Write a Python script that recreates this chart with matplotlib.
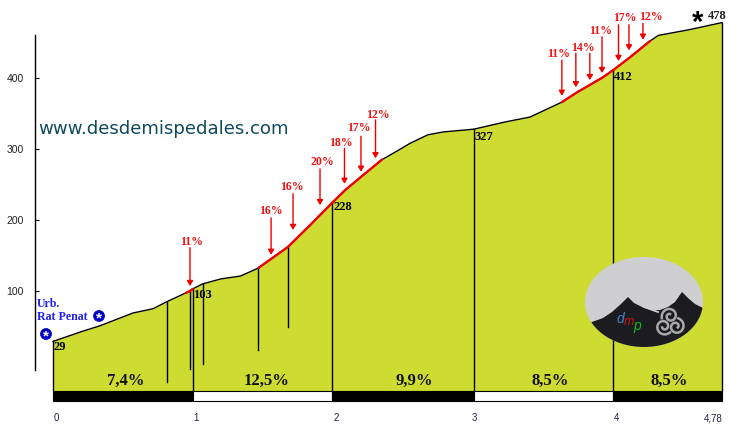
import numpy as np
import matplotlib
matplotlib.use("Agg")
import matplotlib.pyplot as plt
from matplotlib.patches import Ellipse, Polygon
from matplotlib.transforms import ScaledTranslation

# profile
km = [0, 0.207, 0.336, 0.572, 0.715, 0.815, 0.98, 1.0, 1.07, 1.20, 1.34, 1.466, 1.68, 1.84, 1.996, 2.089, 2.217, 2.353,
      2.46, 2.554, 2.682, 2.79, 2.961, 3.012, 3.233, 3.412, 3.64, 3.75, 3.934, 4.006, 4.12, 4.27, 4.33, 4.55, 4.785]
elev = [29, 43, 51, 69, 75, 85, 100, 103, 110, 117, 121, 132, 162, 193, 224, 242, 263, 285,
        297, 308, 320, 324, 327, 328, 338, 345, 366, 380, 401, 411, 428, 452, 460, 468, 478]
red_ranges = [(0.95, 1.0), (1.47, 2.353), (3.64, 4.27)]

# spot heights (marks dropped from the profile)
drop_km = [0.815, 0.98, 1.0, 1.07, 1.466, 1.68, 1.996, 3.012, 4.006, 4.785]
drop_to = [-28, -10, -41, -3, 17, 50, -41, -41, -41, -41]

height_km = [0.0, 1.07, 2.07, 3.08, 4.08]
height_el = [21, 94, 218, 317, 402]
height_txt = ["29", "103", "228", "327", "412"]

# gradient arrows
arrow_km = [0.98, 1.56, 1.717, 1.91, 2.085, 2.203, 2.307, 3.64, 3.74, 3.84, 3.927, 4.045, 4.12, 4.22]
arrow_tip = [107, 151, 186, 221, 251, 268, 287, 375, 387, 397, 407, 424, 439, 454]
arrow_tail = [161, 203, 237, 272, 301, 318, 341, 425, 435, 435, 458, 475, 475, 477]
grad_txt = ["11%", "16%", "16%", "20%", "18%", "17%", "12%", "11%", "14%", "11%", "17%", "12%"]
grad_km = [0.994, 1.56, 1.71, 1.924, 2.06, 2.189, 2.325, 3.62, 3.79, 3.92, 4.09, 4.28]
grad_el = [169, 213, 246, 282, 308, 330, 348, 434, 442, 466, 485, 486]

# strip of mean gradients
seg_edges = [0, 1, 1.996, 3.012, 4.006, 4.785]
seg_txt = ["7,4%", "12,5%", "9,9%", "8,5%", "8,5%"]
seg_colors = ["black", "white", "black", "white", "black"]
seg_txt_km = [0.52, 1.525, 2.585, 3.555, 4.41]

x_ticks = [0, 1, 2, 3, 4, 4.78]
x_labels = ["0", "1", "2", "3", "4", "4,78"]
y_ticks = [100, 200, 300, 400]

FILL = "#CEDC32"
SERIF = "Liberation Serif"
SANS = "Liberation Sans"

fig = plt.figure(figsize=(7.3, 4.3), dpi=100)
L, R, T, B = 35, 730, 0, 405
ax = fig.add_axes([L / 730, 1 - B / 430, (R - L) / 730, (B - T) / 430])
ax.set_xlim((L - 53) / 139.8, (R - 53) / 139.8)
ax.set_ylim((362 - B) / 0.71, (362 - T) / 0.71)
ax.patch.set_alpha(0)

for s in ["top", "right", "bottom"]:
    ax.spines[s].set_visible(False)
ax.spines["left"].set_bounds(-11, 460)
ax.spines["left"].set_linewidth(1)

ax.set_yticks(y_ticks)
ax.set_yticklabels([str(v) for v in y_ticks], fontsize=7.5, family=SANS, color="#222222")
ax.tick_params(axis="y", direction="in", length=3, width=0.8, pad=8)
ax.set_xticks(x_ticks)
ax.set_xticklabels(x_labels, fontsize=7, family=SANS, color="#222244")
ax.tick_params(axis="x", length=0, pad=6)
for lab, dx in zip(ax.get_xticklabels(), [3, 3, 4, 2, 4, -8]):
    lab.set_transform(lab.get_transform() + ScaledTranslation(dx / 100, 0, fig.dpi_scale_trans))

ax.fill_between(km, -41, elev, color=FILL, lw=0, zorder=1)
ax.plot(km, elev, color="black", lw=1, zorder=3)
ax.plot([0, 0], [-41, 29], color="black", lw=1, zorder=3)

for a, b in red_ranges:
    xs = [a] + [k for k in km if a < k < b] + [b]
    ys = np.interp(xs, km, elev)
    ax.plot(xs, ys, color="#EE0000", lw=1.7, zorder=4, solid_capstyle="round")

for k, b in zip(drop_km, drop_to):
    ax.plot([k, k], [b, np.interp(k, km, elev)], color="black", lw=1, zorder=2)

for i, c in enumerate(seg_colors):
    ax.fill_between(seg_edges[i:i + 2], -55, -41, facecolor=c, edgecolor="black", lw=0.8, zorder=3, clip_on=False)
for k, t in zip(seg_txt_km, seg_txt):
    ax.text(k, -27, t, ha="center", va="center", fontsize=12, family=SERIF, fontweight="bold", color="#111111", zorder=5)

for k, e, t in zip(height_km, height_el, height_txt):
    ax.text(k, e, t, ha="left" if t == "29" else "center", va="center", fontsize=9, family=SERIF, fontweight="bold", zorder=5)

for k, tip, tail in zip(arrow_km, arrow_tip, arrow_tail):
    ax.annotate("", xy=(k, tip), xytext=(k, tail), zorder=6,
                arrowprops=dict(arrowstyle="-|>,head_width=0.18,head_length=0.3", color="#EE0000", lw=1,
                                shrinkA=0, shrinkB=0))
for k, e, t in zip(grad_km, grad_el, grad_txt):
    ax.text(k, e, t, ha="center", va="center", fontsize=8.5, family=SERIF, fontweight="bold", color="#EE1111", zorder=6)

ax.text(4.607, 478, "*", fontsize=21, family=SANS, fontweight="bold", ha="center", va="center", color="black")
ax.text(4.755, 488, "478", fontsize=9, family=SERIF, fontweight="bold", ha="center", va="center", color="#222222")

# pixel-space overlay for decoration
ov = fig.add_axes([0, 0, 1, 1])
ov.set_xlim(0, 730)
ov.set_ylim(430, 0)
ov.axis("off")
ov.patch.set_alpha(0)

ov.text(38, 134, "www.desdemispedales.com", fontsize=13.1, family="DejaVu Sans", color="#0F4A5E",
        va="baseline", ha="left")
ov.text(37, 304, "Urb.", fontsize=8.6, family=SERIF, fontweight="bold", color="#2222EE", va="center")
ov.text(37, 317, "Rat Penat", fontsize=8.6, family=SERIF, fontweight="bold", color="#2222EE", va="center")
for cx, cy in [(46, 334), (99, 316)]:
    ov.add_patch(Ellipse((cx, cy), 11, 11, fc="#0000CC", ec="#0000AA", lw=0.5))
    ov.text(cx, cy + 2, "*", fontsize=11, family=SANS, fontweight="bold", color="white", ha="center", va="center")

# logo
ov.add_patch(Ellipse((644, 302), 118, 90, fc="#CFCFD1", ec="none", zorder=2))
dark = Ellipse((644, 302), 118, 90, fc="#1C1C20", ec="none", zorder=3)
ov.add_patch(dark)
clip = Polygon([(585, 326), (592, 322), (603, 318), (612, 312), (621, 304), (628, 297), (634, 303), (642, 307),
                (651, 310), (660, 310), (668, 307), (675, 302), (682, 292), (688, 298), (695, 304), (703, 308),
                (710, 308), (710, 360), (585, 360)],
               transform=ov.transData, fc="none", ec="none")
ov.add_patch(clip)
dark.set_clip_path(clip)
ov.plot([644, 658], [307, 312], color="#CFCFD1", lw=1.3, zorder=4)
ov.text(620, 319, "d", color="#3E86C6", fontsize=10, style="italic", family=SANS, ha="center", va="center", zorder=5)
ov.text(629, 322, "m", color="#CC1111", fontsize=9, style="italic", family=SANS, ha="center", va="center", zorder=5)
ov.text(637, 326, "p", color="#11BB22", fontsize=10, style="italic", family=SANS, ha="center", va="center", zorder=5)
# triskele
for a0 in np.deg2rad([90, 210, 330]):
    th = np.deg2rad(np.arange(0, 480, 15))
    r = 2 + 6.5 * (th / th[-1])
    ox, oy = 670 + 7 * np.cos(a0), 323 - 7 * np.sin(a0)
    ov.plot(ox + r * np.cos(a0 + th), oy - r * np.sin(a0 + th), color="#A8A8A8", lw=1.8, zorder=5)

fig.savefig("out.png", dpi=100)
